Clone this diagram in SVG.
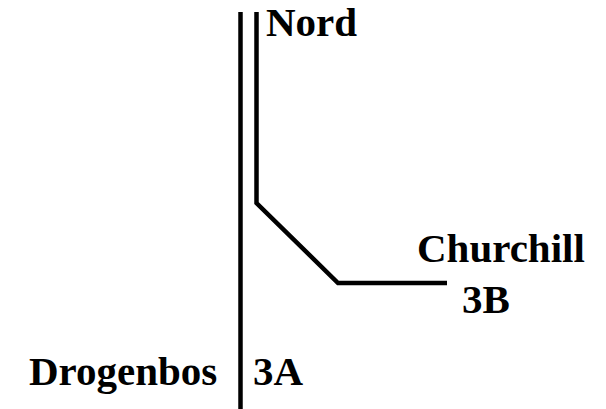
<svg xmlns="http://www.w3.org/2000/svg" width="606" height="409" viewBox="0 0 606 409">
<style>
.t{font-family:"Liberation Serif","Times New Roman",serif;font-weight:bold;font-size:41px;fill:#000}
.l{fill:none;stroke:#000;stroke-width:4.5}
</style>
<rect width="606" height="409" fill="#fff"/>
<g id="connectors">
<path class="l" d="M240.5,12 V409"/>
<path class="l" d="M256.5,12 V203 L338,283 H447"/>
</g>
<g id="nord"><text class="t" x="266" y="36">Nord</text></g>
<g id="churchill"><text class="t" x="417" y="262">Churchill</text><text class="t" x="462" y="313">3B</text></g>
<g id="drogenbos"><text class="t" x="29" y="385">Drogenbos</text><text class="t" x="253" y="385">3A</text></g>
</svg>
